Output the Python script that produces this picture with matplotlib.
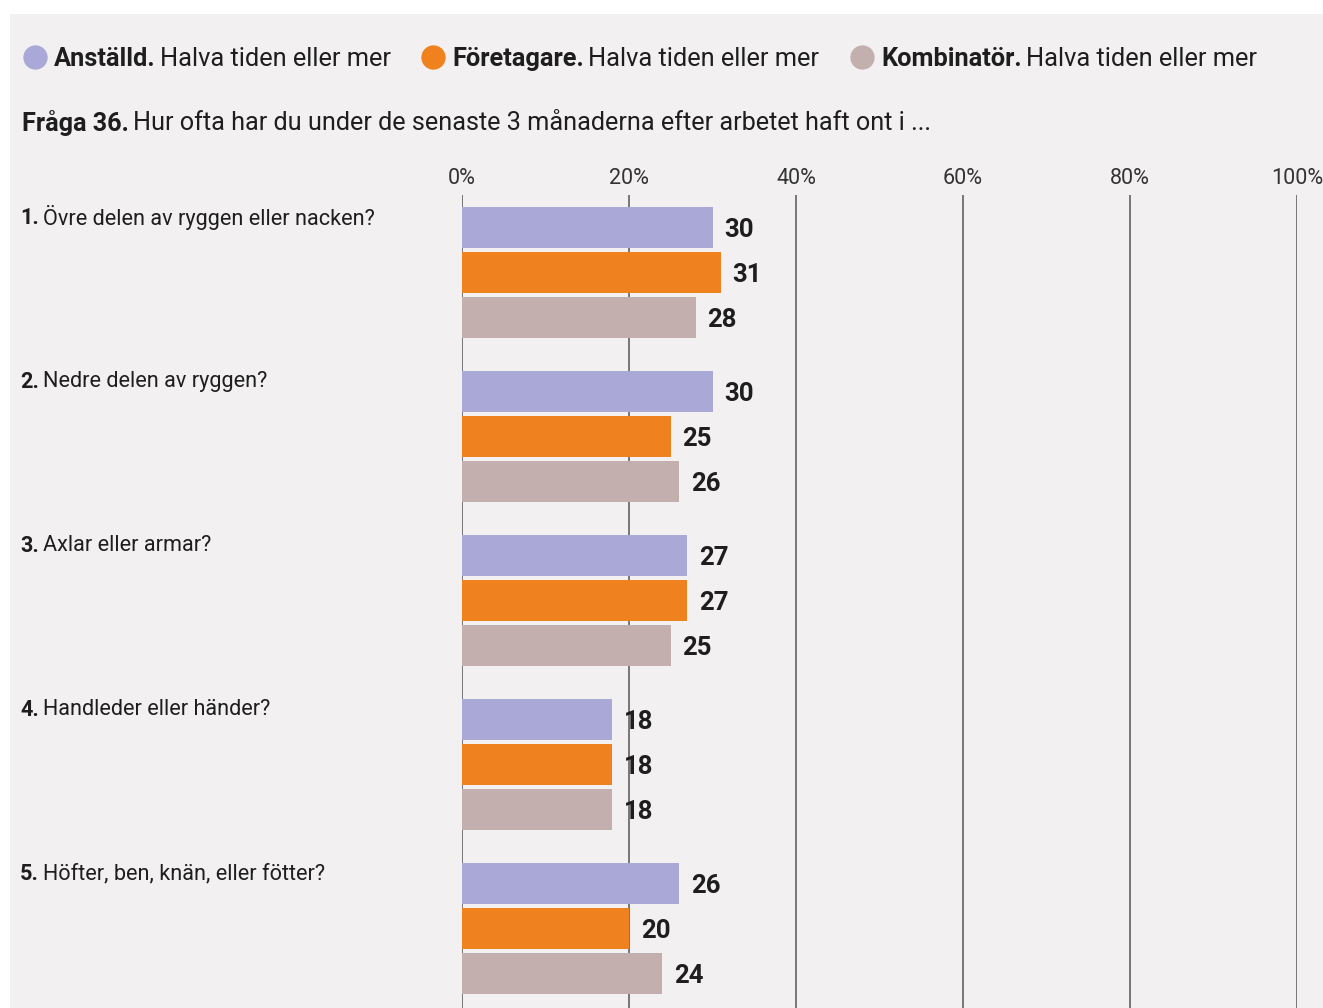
import matplotlib
matplotlib.use("Agg")
import matplotlib.pyplot as plt
from matplotlib.lines import Line2D
from matplotlib.patches import Rectangle
from matplotlib.transforms import blended_transform_factory

plt.rcParams['font.family'] = ['Roboto', 'DejaVu Sans']

# data
questions_num = ['1.', '2.', '3.', '4.', '5.']
questions = ['Övre delen av ryggen eller nacken?', 'Nedre delen av ryggen?',
             'Axlar eller armar?', 'Handleder eller händer?',
             'Höfter, ben, knän, eller fötter?']
groups = ['Anställd.', 'Företagare.', 'Kombinatör.']
legend_suffix = 'Halva tiden eller mer'
anstalld = [30, 30, 27, 18, 26]
foretagare = [31, 25, 27, 18, 20]
kombinator = [28, 26, 25, 18, 24]
xticks = [0, 20, 40, 60, 80, 100]
title_bold = 'Fråga 36.'
title_rest = 'Hur ofta har du under de senaste 3 månaderna efter arbetet haft ont i ...'

colors = ['#aaa8d6', '#ef821e', '#c3afae']
bg = '#f2f0f1'
txt = '#1e1e1e'

W, H = 1323, 1008
fig = plt.figure(figsize=(W / 100, H / 100), dpi=100, facecolor='white')
fig.patches.append(Rectangle((10 / W, 0), 1, (H - 14) / H, transform=fig.transFigure,
                             facecolor=bg, edgecolor='none', zorder=-10))

# axes: 0% at x=462px, 100% at x=1297px, grid from y=195px to bottom
ax = fig.add_axes([462 / W, 0, 835 / W, (H - 195) / H])
ax.set_facecolor('none')
ax.set_xlim(0, 100)
group_px = 164.0
ax.set_ylim((H - 272.5) / group_px, -(272.5 - 195) / group_px)

step = 45 / group_px
height = 41 / group_px
series = [anstalld, foretagare, kombinator]
for j, vals in enumerate(series):
    ys = [i + (j - 1) * step for i in range(len(vals))]
    ax.barh(ys, vals, height=height, color=colors[j], zorder=2)
    for y, v in zip(ys, vals):
        ax.annotate(str(v), (v, y), xytext=(8.5, -1.5), textcoords='offset points',
                    ha='left', va='center', fontsize=18.5, fontweight='bold', color=txt, zorder=1)

ax.set_xticks(xticks)
ax.set_xticklabels([f'{t}%' for t in xticks])
ax.xaxis.tick_top()
ax.tick_params(axis='x', length=0, pad=4.5, labelsize=15.5, labelcolor='#333333')
ax.set_yticks([])
ax.grid(axis='x', color='#555555', lw=1.1, zorder=0)
ax.set_axisbelow(True)
for s in ax.spines.values():
    s.set_visible(False)

fig.canvas.draw()
renderer = fig.canvas.get_renderer()


def rich(x_px, y, bold, rest, size, trans):
    # bold lead-in followed by regular text
    t1 = fig.text(x_px / W, y, bold, fontsize=size, fontweight='bold',
                  color=txt, va='center', ha='left', transform=trans)
    bb = t1.get_window_extent(renderer)
    x2 = bb.x1 + size * 0.25
    fig.text(x2 / W, y, rest, fontsize=size, color=txt, va='center', ha='left', transform=trans)


# legend
leg_x = [35, 433, 862]
for j, name in enumerate(groups):
    fig.add_artist(Line2D([leg_x[j] / W], [1 - 57 / H], marker='o', markersize=16.5,
                          color=colors[j], linestyle='none', transform=fig.transFigure))
    rich(leg_x[j] + 19, 1 - 59 / H, name, legend_suffix, 18.3, fig.transFigure)

# title
rich(22, 1 - 123 / H, title_bold, title_rest, 18.2, fig.transFigure)

# question labels
btr = blended_transform_factory(fig.transFigure, ax.transData)
for i, (n, q) in enumerate(zip(questions_num, questions)):
    rich(20, i - 55 / group_px, n, q, 15.6, btr)

fig.savefig('out.png', dpi=100, facecolor='white')
